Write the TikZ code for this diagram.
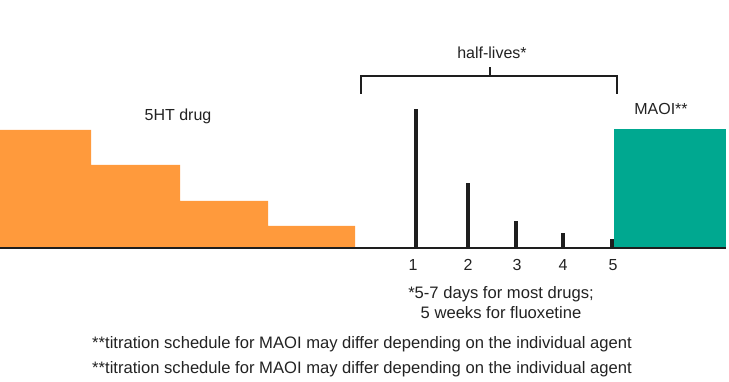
\documentclass[tikz,border=0pt]{standalone}
\usepackage{fontspec}
\setmainfont{Liberation Sans}
\usepackage{tikz}
\usetikzlibrary{positioning, calc}
\definecolor{drugFill}{HTML}{FF9A3C}
\definecolor{maoiFill}{HTML}{00A890}
\definecolor{barStroke}{HTML}{1E1E1E}
\definecolor{txtGray}{HTML}{222222}
\tikzset{
  label/.style={inner sep=0pt, font=\fontsize{16}{18}\selectfont, text=txtGray},
  note/.style={label, font=\fontsize{16.6}{18}\selectfont},
  halfbar/.style={draw=barStroke, line width=3.6pt},
  axis/.style={draw=barStroke, line width=1.4pt},
  bracket/.style={draw=barStroke, line width=1.2pt},
}

\begin{document}
\begin{tikzpicture}[x=1pt, y=1pt]
    \useasboundingbox (0,0) rectangle (729,382);

    % 5HT drug taper
    \fill[drugFill] (0,134) -- (0,252) -- (91,252) -- (91,217) -- (180,217) -- (180,181)
      -- (268,181) -- (268,156) -- (355,156) -- (355,134) -- cycle;
    \node[label] (drug) at (178,266) {5HT drug};

    % MAOI block
    \fill[maoiFill] (614,134) rectangle (726,253);
    \node[label] (maoi) at (661,273) {MAOI**};

    % half-lives
    \draw[halfbar] (416,134) -- (416,273);
    \draw[halfbar] (468,134) -- (468,199);
    \draw[halfbar] (516,134) -- (516,161);
    \draw[halfbar] (563,134) -- (563,149);
    \draw[halfbar] (612,134) -- (612,143);
    \draw[axis] (0,134) -- (726,134);

    \node[label] (h1) at (413,117) {1};
    \node[label] (h2) at (468,117) {2};
    \node[label] (h3) at (517,117) {3};
    \node[label] (h4) at (563,117) {4};
    \node[label] (h5) at (613,117) {5};

    % bracket
    \coordinate (bl) at (361,288);
    \coordinate (br) at (617,288);
    \coordinate (bm) at (490,306);
    \draw[bracket] (bl) |- (br |- bm) -- (br);
    \draw[bracket] (bm) -- ++(0,9);
    \node[label] (half) at (492,329) {half-lives*};

    \node[note] (days) at (501,88) {*5-7 days for most drugs;};
    \node[note] (weeks) at (501,69) {5 weeks for fluoxetine};

    \node[note] (foot1) at (362,38) {**titration schedule for MAOI may differ depending on the individual agent};
    \node[note] (foot2) at (362,13) {**titration schedule for MAOI may differ depending on the individual agent};
  \end{tikzpicture}
\end{document}
